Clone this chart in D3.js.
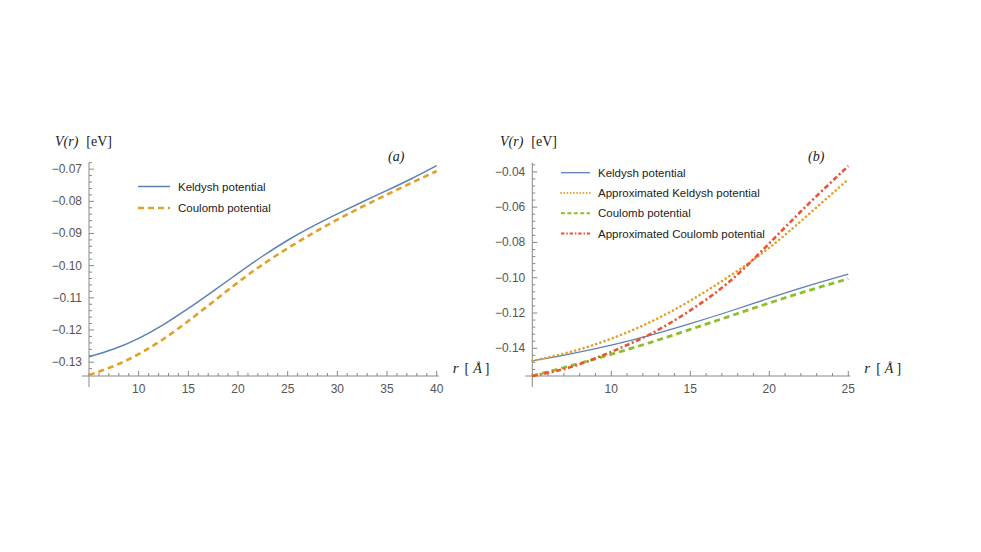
<!DOCTYPE html>
<html>
<head>
<meta charset="utf-8">
<script src="https://cdn.jsdelivr.net/npm/d3@7"></script>
<style>
  html, body { margin: 0; padding: 0; background: #fff; }
  svg { display: block; }
  .tick-label { font-family: "Liberation Sans", Arial, sans-serif; font-size: 12px; fill: #555; }
  .legend-text { font-family: "Liberation Sans", Arial, sans-serif; font-size: 11.5px; fill: #222; }
  .serif { font-family: "Liberation Serif", "DejaVu Serif", serif; font-size: 14px; fill: #222; }
</style>
</head>
<body>
<svg id="chart" width="981" height="552"></svg>
<script>
// ---------- DATA ----------
// Panel (a)
const rA = [5, 7.5, 10, 12.5, 15, 17.5, 20, 22.5, 25, 27.5, 30, 32.5, 35, 37.5, 40];
const keldyshA = [-0.1283, -0.1259, -0.1226, -0.1183, -0.1133, -0.1079, -0.1024, -0.0970, -0.0921, -0.0878, -0.0839, -0.0802, -0.0766, -0.0729, -0.0689];
const coulombA = [-0.1340, -0.1312, -0.1275, -0.1228, -0.1172, -0.1112, -0.1052, -0.0996, -0.0946, -0.0900, -0.0857, -0.0817, -0.0779, -0.0742, -0.0706];
const yTicksA = [-0.13, -0.12, -0.11, -0.10, -0.09, -0.08, -0.07];
const xTicksA = [10, 15, 20, 25, 30, 35, 40];

// Panel (b)
const rB = [5, 7.5, 10, 12.5, 15, 17.5, 20, 22.5, 25];
const keldyshB = [-0.1472, -0.1430, -0.1382, -0.1325, -0.1260, -0.1190, -0.1116, -0.1045, -0.0980];
const approxKeldyshB = [-0.1472, -0.1418, -0.1345, -0.1250, -0.1130, -0.0990, -0.0830, -0.0640, -0.0442];
const coulombB = [-0.1557, -0.1497, -0.1434, -0.1366, -0.1293, -0.1218, -0.1143, -0.1072, -0.1006];
const approxCoulombB = [-0.1557, -0.1505, -0.1420, -0.1318, -0.1185, -0.1020, -0.0805, -0.0580, -0.0367];
const yTicksB = [-0.14, -0.12, -0.10, -0.08, -0.06, -0.04];
const xTicksB = [10, 15, 20, 25];

const seriesNamesA = ["Keldysh potential", "Coulomb potential"];
const seriesNamesB = ["Keldysh potential", "Approximated Keldysh potential", "Coulomb potential", "Approximated Coulomb potential"];

// ---------- STYLES ----------
const C_BLUE = "#5E81B5", C_ORANGE = "#E2A027", C_GREEN = "#8DBF2A", C_RED = "#EC5233";
const styles = {
  keldysh: { color: C_BLUE, width: 1.5, dash: null, cap: "butt" },
  coulombA: { color: C_ORANGE, width: 2.6, dash: "6,4", cap: "butt" },
  keldyshB: { color: C_BLUE, width: 1.3, dash: null, cap: "butt" },
  approxK: { color: C_ORANGE, width: 2.6, dash: "0.01,4.4", cap: "round" },
  coulombB: { color: C_GREEN, width: 2.8, dash: "6,4", cap: "butt" },
  approxC: { color: C_RED, width: 2.6, dash: "5,2.6,2,2.6", cap: "butt" }
};
const legendStylesB = [
  { color: C_BLUE, width: 1.3, dash: null, cap: "butt" },
  { color: C_ORANGE, width: 1.8, dash: "0.01,3.2", cap: "round" },
  { color: C_GREEN, width: 2, dash: "4,2.4", cap: "butt" },
  { color: C_RED, width: 2, dash: "3.5,1.8,1.5,1.8", cap: "butt" }
];

const svg = d3.select("#chart");
const fmt = v => (v < 0 ? "\u2212" : "") + Math.abs(v).toFixed(2);

function drawPanel(cfg) {
  const g = svg.append("g");
  const x = d3.scaleLinear().domain(cfg.xDomain).range(cfg.xRange);
  const y = d3.scaleLinear().domain(cfg.yDomain).range(cfg.yRange);
  const x0 = cfg.xRange[0], y0 = cfg.yRange[0];
  const axisColor = "#888";

  // axes lines
  g.append("line").attr("x1", x0 - 7).attr("x2", cfg.xRange[1] + 2).attr("y1", y0).attr("y2", y0)
    .attr("stroke", axisColor).attr("stroke-width", 1);
  g.append("line").attr("x1", x0).attr("x2", x0).attr("y1", cfg.yRange[1]).attr("y2", y0 + 11)
    .attr("stroke", axisColor).attr("stroke-width", 1);

  // x minor/major ticks (pointing up)
  const xMinor = d3.range(Math.ceil(cfg.xDomain[0]), cfg.xDomain[1] + 0.001, 1);
  g.selectAll(null).data(xMinor).join("line")
    .attr("x1", d => x(d)).attr("x2", d => x(d))
    .attr("y1", y0).attr("y2", d => y0 - (cfg.xTicks.includes(d) ? 5 : 3))
    .attr("stroke", axisColor).attr("stroke-width", 1);
  g.selectAll(null).data(cfg.xTicks).join("text")
    .attr("class", "tick-label").attr("x", d => x(d)).attr("y", y0 + 17)
    .attr("text-anchor", "middle").text(d => d);

  // y minor/major ticks (pointing right)
  const step = cfg.yMinorStep;
  const yMinor = d3.range(Math.ceil(cfg.yDomain[0] / step - 1e-6), Math.floor(cfg.yDomain[1] / step + 1e-6) + 1)
    .map(k => k * step);
  const isMajor = v => cfg.yTicks.some(t => Math.abs(t - v) < 1e-6);
  g.selectAll(null).data(yMinor).join("line")
    .attr("x1", x0).attr("x2", d => x0 + (isMajor(d) ? 5 : 3))
    .attr("y1", d => y(d)).attr("y2", d => y(d))
    .attr("stroke", axisColor).attr("stroke-width", 1);
  g.selectAll(null).data(cfg.yTicks).join("text")
    .attr("class", "tick-label").attr("x", x0 - 7).attr("y", d => y(d) + 4)
    .attr("text-anchor", "end").text(d => fmt(d));

  // curves
  const line = d3.line().x(d => x(d[0])).y(d => y(d[1])).curve(d3.curveNatural);
  cfg.series.forEach(s => {
    g.append("path").datum(cfg.r.map((r, i) => [r, s.values[i]]))
      .attr("d", line).attr("fill", "none")
      .attr("stroke", s.style.color).attr("stroke-width", s.style.width)
      .attr("stroke-dasharray", s.style.dash).attr("stroke-linecap", s.style.cap);
  });

  // legend
  cfg.series.forEach((s, i) => {
    const ly = cfg.legend.y + i * cfg.legend.dy;
    const st = s.legendStyle || s.style;
    g.append("line").attr("x1", cfg.legend.x).attr("x2", cfg.legend.x + cfg.legend.len)
      .attr("y1", ly).attr("y2", ly)
      .attr("stroke", st.color).attr("stroke-width", st.width)
      .attr("stroke-dasharray", st.dash).attr("stroke-linecap", st.cap);
    g.append("text").attr("class", "legend-text")
      .attr("x", cfg.legend.x + cfg.legend.len + 8).attr("y", ly + 4).text(s.name);
  });

  // axis titles
  const yl = g.append("text").attr("class", "serif").attr("x", cfg.yLabelX).attr("y", 146);
  yl.append("tspan").attr("font-style", "italic").text("V(r)");
  yl.append("tspan").attr("dx", 8).text("[eV]");

  const xl = g.append("text").attr("class", "serif").attr("x", cfg.xRange[1] + 16).attr("y", y0 - 3);
  xl.append("tspan").attr("font-style", "italic").attr("font-size", 15).text("r");
  xl.append("tspan").attr("dx", 6).text("[");
  xl.append("tspan").attr("dx", 4).attr("font-style", "italic").text("\u00C5");
  xl.append("tspan").attr("dx", 3).text("]");

  g.append("text").attr("class", "serif").attr("x", cfg.panelLabelX).attr("y", 161)
    .attr("font-style", "italic").text(cfg.panelLabel);
}

drawPanel({
  r: rA,
  xDomain: [5, 40], xRange: [89, 436.7],
  yDomain: [-0.1343, -0.0680], yRange: [376, 162.7],
  xTicks: xTicksA, yTicks: yTicksA, yMinorStep: 0.002,
  series: [
    { name: seriesNamesA[0], values: keldyshA, style: styles.keldysh },
    { name: seriesNamesA[1], values: coulombA, style: styles.coulombA }
  ],
  legend: { x: 138, y: 186.5, dy: 21.5, len: 32 },
  yLabelX: 55, panelLabelX: 388, panelLabel: "(a)"
});

drawPanel({
  r: rB,
  xDomain: [5, 25], xRange: [532.3, 848.3],
  yDomain: [-0.1557, -0.0348], yRange: [376, 162.7],
  xTicks: xTicksB, yTicks: yTicksB, yMinorStep: 0.004,
  series: [
    { name: seriesNamesB[0], values: keldyshB, style: styles.keldyshB, legendStyle: legendStylesB[0] },
    { name: seriesNamesB[1], values: approxKeldyshB, style: styles.approxK, legendStyle: legendStylesB[1] },
    { name: seriesNamesB[2], values: coulombB, style: styles.coulombB, legendStyle: legendStylesB[2] },
    { name: seriesNamesB[3], values: approxCoulombB, style: styles.approxC, legendStyle: legendStylesB[3] }
  ],
  legend: { x: 561, y: 172.7, dy: 20.3, len: 29 },
  yLabelX: 500, panelLabelX: 808, panelLabel: "(b)"
});
</script>
</body>
</html>
